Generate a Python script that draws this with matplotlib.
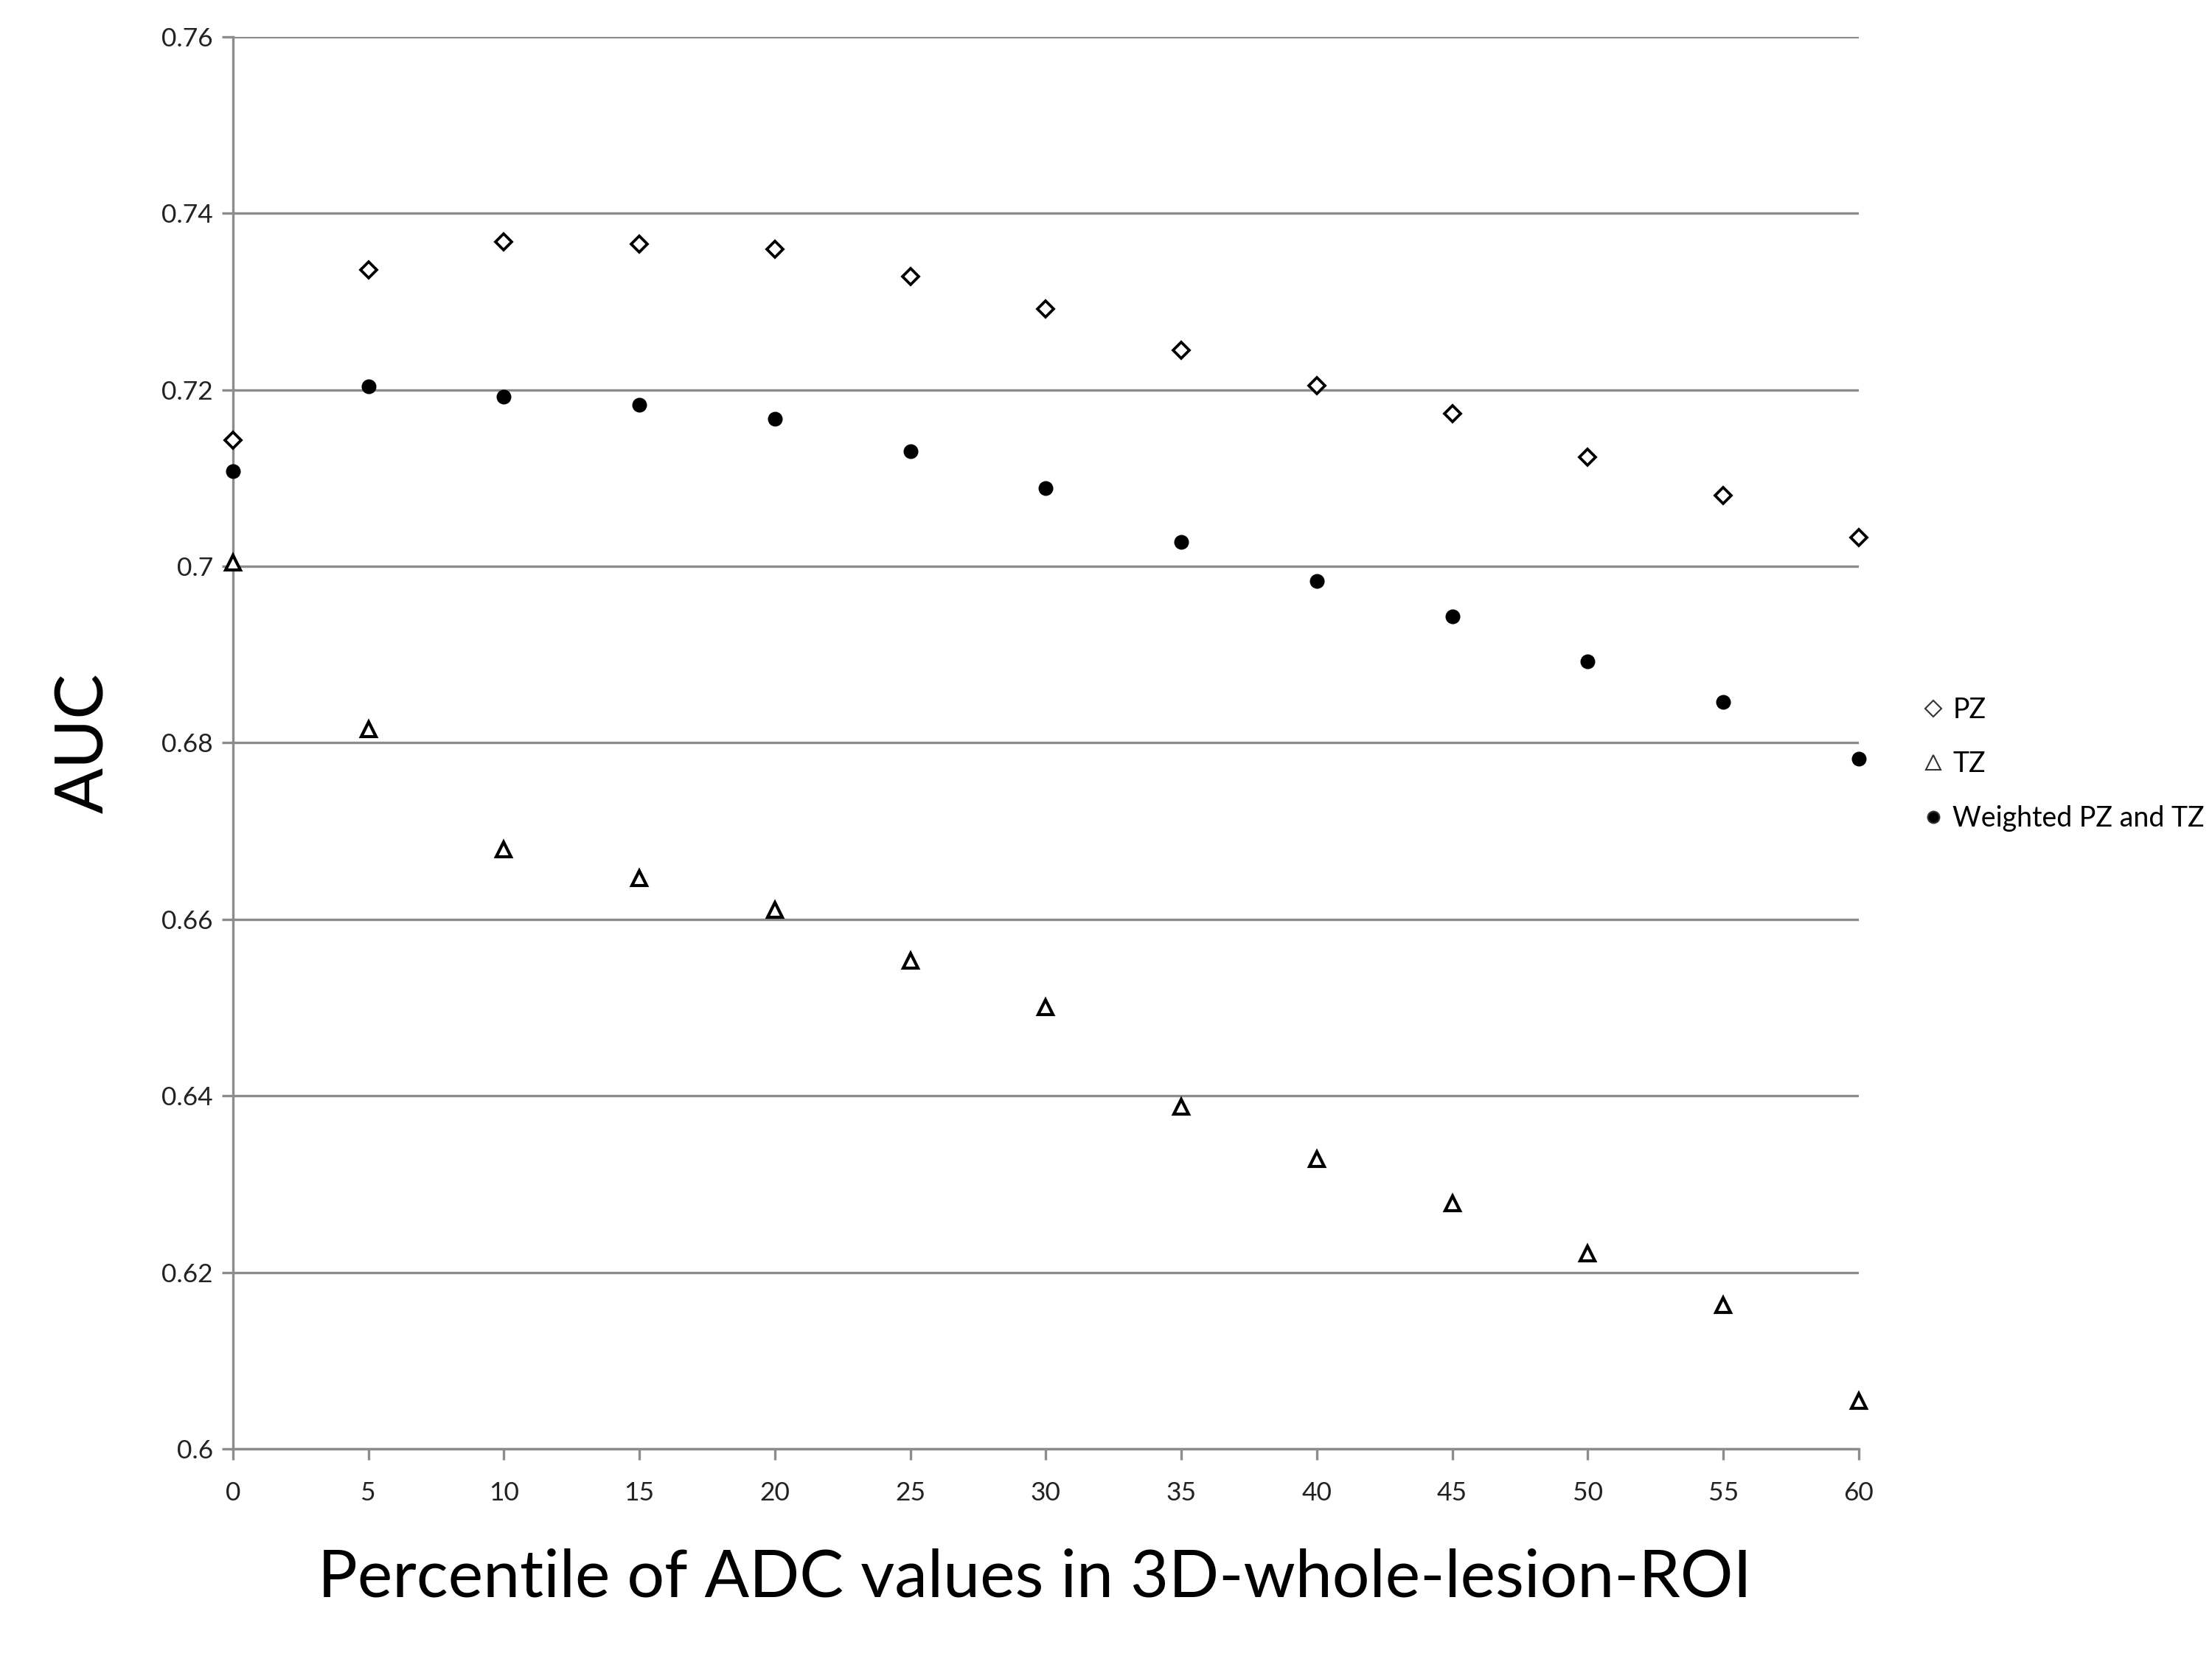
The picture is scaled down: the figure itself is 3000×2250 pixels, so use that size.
import matplotlib
matplotlib.use('Agg')
import matplotlib.pyplot as plt

# AUC per ADC percentile
percentiles = [0, 5, 10, 15, 20, 25, 30, 35, 40, 45, 50, 55, 60]
auc_pz = [0.7143, 0.7336, 0.7368, 0.7365, 0.7359, 0.7328, 0.7292,
          0.7245, 0.7205, 0.7173, 0.7124, 0.7080, 0.7033]
auc_tz = [0.7004, 0.6815, 0.6679, 0.6647, 0.6611, 0.6553, 0.6500,
          0.6388, 0.6328, 0.6278, 0.6221, 0.6163, 0.6054]
auc_weighted = [0.7108, 0.7204, 0.7192, 0.7183, 0.7167, 0.7130, 0.7089,
                0.7028, 0.6983, 0.6943, 0.6892, 0.6846, 0.6782]

y_ticks = [0.6, 0.62, 0.64, 0.66, 0.68, 0.7, 0.72, 0.74, 0.76]
y_tick_labels = ['0.6', '0.62', '0.64', '0.66', '0.68', '0.7', '0.72', '0.74', '0.76']

plt.rcParams['font.family'] = ['Lato', 'DejaVu Sans']

grey = '#8c8c8c'

fig = plt.figure(figsize=(10, 7.5), dpi=300)
ax = fig.add_axes([0.1053, 0.1267, 0.735, 0.8511])

ax.plot(percentiles, auc_pz, linestyle='none', marker='D', markersize=3.6,
        markerfacecolor='white', markeredgecolor='black', markeredgewidth=0.9,
        label='PZ', clip_on=False, zorder=3)
ax.plot(percentiles, auc_tz, linestyle='none', marker='^', markersize=5.0,
        markerfacecolor='white', markeredgecolor='black', markeredgewidth=1.0,
        label='TZ', clip_on=False, zorder=3)
ax.plot(percentiles, auc_weighted, linestyle='none', marker='o', markersize=3.8,
        color='black', label='Weighted PZ and TZ', clip_on=False, zorder=3)

ax.set_xlim(0, 60)
ax.set_ylim(0.6, 0.76)
ax.set_xticks(percentiles)
ax.set_yticks(y_ticks)
ax.set_yticklabels(y_tick_labels)

ax.yaxis.grid(True, color=grey, linewidth=0.8)
ax.set_axisbelow(True)
for side in ['top', 'right']:
    ax.spines[side].set_visible(False)
for side in ['left', 'bottom']:
    ax.spines[side].set_color(grey)
    ax.spines[side].set_linewidth(0.8)

ax.tick_params(axis='both', colors=grey, length=3.5, width=0.8, labelsize=8.5,
               labelcolor='#222222')
ax.tick_params(axis='x', pad=7)
ax.tick_params(axis='y', pad=3)

ax.set_xlabel('Percentile of ADC values in 3D-whole-lesion-ROI', fontsize=21.5,
              labelpad=14)
ax.xaxis.label.set_x(0.493)
ax.set_ylabel('AUC', fontsize=22, labelpad=15)

leg = ax.legend(loc='center left', bbox_to_anchor=(1.034, 0.485), frameon=False,
                fontsize=9, handlelength=0.6, handletextpad=0.4,
                labelspacing=1.0, borderaxespad=0.0)
for h in leg.legend_handles:
    h.set_markeredgewidth(0.5)
    h.set_markeredgecolor('#333333')

fig.savefig('out.png', dpi=300)
